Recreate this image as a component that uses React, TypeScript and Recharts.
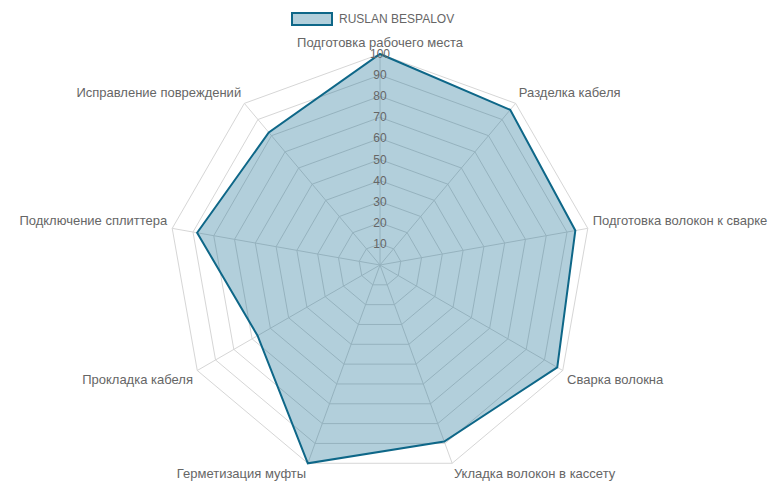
import { PolarAngleAxis, PolarGrid, PolarRadiusAxis, Radar, RadarChart } from "recharts";

const SKILLS = [
  "Подготовка рабочего места",
  "Разделка кабеля",
  "Подготовка волокон к сварке",
  "Сварка волокна",
  "Укладка волокон в кассету",
  "Герметизация муфты",
  "Прокладка кабеля",
  "Подключение сплиттера",
  "Исправление повреждений",
];
const SCORES = [100, 96, 94, 97, 89, 100, 67, 88, 82];
const RADIUS_TICKS = [0, 10, 20, 30, 40, 50, 60, 70, 80, 90, 100];
const SERIES_NAME = "RUSLAN BESPALOV";

const W = 771;
const H = 481;
const CX = 380;
const CY = 265;
const R = 211;
const STROKE = "#0e6788";
const FILL = "rgb(0,95,135)";
const GRID = "#d6d6d6";
const TEXT = "#666";
const FONT = "'Liberation Sans', Arial, sans-serif";

const data = SKILLS.map((skill, i) => ({ skill, score: SCORES[i] }));

function AngleTick(props: any) {
  const { payload } = props;
  const a = (payload.coordinate * Math.PI) / 180;
  const cos = Math.cos(a);
  const sin = Math.sin(a);
  const x = CX + (R + 5) * cos;
  const y = CY - (R + 5) * sin + (sin > 0 ? -7 : 6);
  const anchor = Math.abs(cos) < 0.05 ? "middle" : cos > 0 ? "start" : "end";
  return (
    <text x={x} y={y} textAnchor={anchor} dominantBaseline="central" fontSize={13} fill={TEXT} fontFamily={FONT}>
      {payload.value}
    </text>
  );
}

function RadiusTick(props: any) {
  const { x, y, payload } = props;
  if (payload.value === 0) return null;
  return (
    <text x={x} y={y} textAnchor="middle" dominantBaseline="central" fontSize={12} fill={TEXT} fontFamily={FONT}>
      {payload.value}
    </text>
  );
}

export default function App() {
  return (
    <div style={{ position: "absolute", left: 0, top: 0, width: W, height: H, background: "#fff" }}>
      <svg width={W} height={H} style={{ position: "absolute", left: 0, top: 0 }}>
        <rect x={292} y={13} width={40} height={12} fill={FILL} fillOpacity={0.3} stroke={STROKE} strokeWidth={2} />
        <text x={339} y={19} dominantBaseline="central" fontSize={12} fill={TEXT} fontFamily={FONT}>
          {SERIES_NAME}
        </text>
      </svg>
      <RadarChart
        width={W}
        height={H}
        data={data}
        cx={CX}
        cy={CY}
        outerRadius={R}
        margin={{ top: 0, right: 0, bottom: 0, left: 0 }}
        style={{ position: "absolute", left: 0, top: 0 }}
      >
        <PolarGrid gridType="polygon" stroke={GRID} strokeWidth={1} />
        <PolarAngleAxis dataKey="skill" tick={<AngleTick />} tickLine={false} axisLine={false} />
        <Radar
          name={SERIES_NAME}
          dataKey="score"
          stroke={STROKE}
          strokeWidth={2}
          fill={FILL}
          fillOpacity={0.3}
          isAnimationActive={false}
        />
        <PolarRadiusAxis
          angle={90}
          domain={[0, 100]}
          ticks={RADIUS_TICKS as any}
          tickCount={11}
          tick={<RadiusTick />}
          axisLine={false}
          tickLine={false}
        />
      </RadarChart>
    </div>
  );
}
